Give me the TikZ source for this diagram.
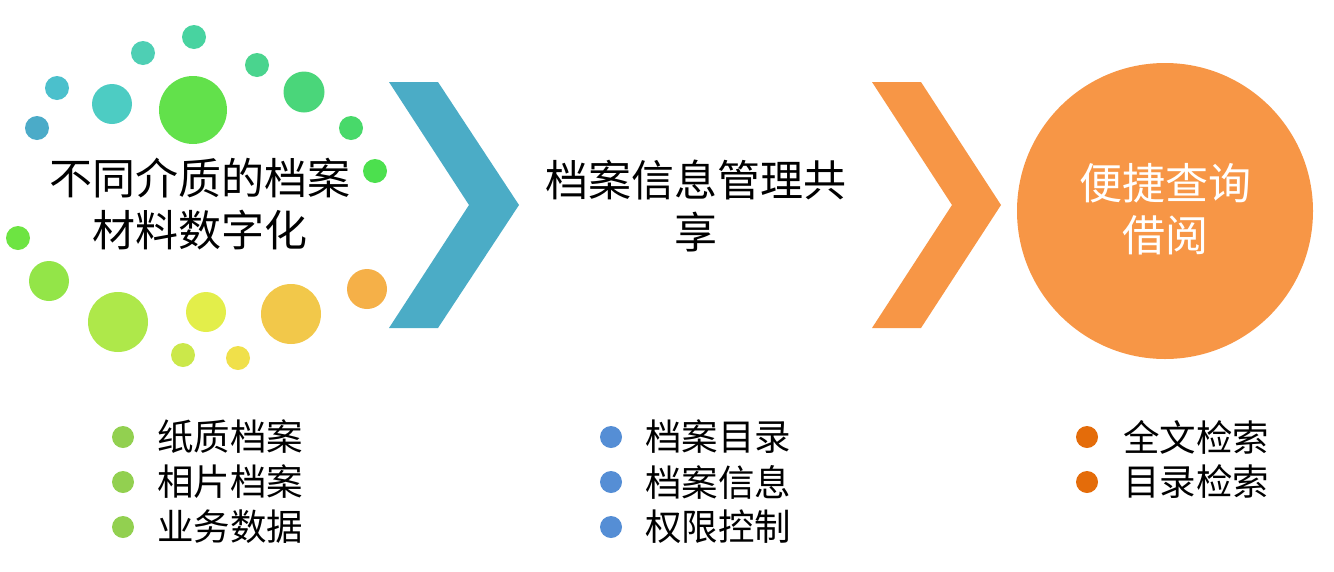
\documentclass[tikz,border=0pt]{standalone}
\usepackage{fontspec}
\newfontfamily\cjk{Noto Sans CJK SC}
\definecolor{cblue}{HTML}{4BACC6}
\definecolor{corange}{HTML}{F79646}
\definecolor{bgreen}{HTML}{92D050}
\definecolor{bblue}{HTML}{558ED5}
\definecolor{borange}{HTML}{E46C0A}
\tikzset{
  dot/.style={circle, inner sep=0pt, minimum size=#1},
  big/.style={font=\cjk\fontsize{43}{52}\selectfont, align=center, inner sep=0pt},
  item/.style={font=\cjk\fontsize{36.5}{44}\selectfont, anchor=west, inner sep=0pt},
  bullet/.style={circle, inner sep=0pt, minimum size=22pt}
}
\begin{document}
\begin{tikzpicture}[x=1pt,y=-1pt]
\useasboundingbox (0,0) rectangle (1334,571);
% decorative circles
\node[dot=24pt, fill={rgb,255:red,72;green,211;blue,160}] (d1) at (194,37) {};
\node[dot=24pt, fill={rgb,255:red,78;green,207;blue,180}] (d2) at (143,53) {};
\node[dot=24pt, fill={rgb,255:red,74;green,212;blue,142}] (d3) at (257,65) {};
\node[dot=24pt, fill={rgb,255:red,75;green,192;blue,204}] (d4) at (57,88) {};
\node[dot=40pt, fill={rgb,255:red,77;green,204;blue,195}] (d5) at (112,104) {};
\node[dot=68pt, fill={rgb,255:red,98;green,225;blue,75}] (d6) at (193,110) {};
\node[dot=41pt, fill={rgb,255:red,74;green,214;blue,122}] (d7) at (304,92) {};
\node[dot=24pt, fill={rgb,255:red,75;green,171;blue,200}] (d8) at (37,128) {};
\node[dot=24pt, fill={rgb,255:red,72;green,217;blue,106}] (d9) at (351,128) {};
\node[dot=24pt, fill={rgb,255:red,76;green,224;blue,78}] (d10) at (375,171) {};
\node[dot=24pt, fill={rgb,255:red,109;green,228;blue,66}] (d11) at (18,238) {};
\node[dot=40pt, fill={rgb,255:red,147;green,229;blue,72}] (d12) at (49,281) {};
\node[dot=60pt, fill={rgb,255:red,174;green,232;blue,74}] (d13) at (118,322) {};
\node[dot=40pt, fill={rgb,255:red,227;green,238;blue,74}] (d14) at (206,312) {};
\node[dot=60pt, fill={rgb,255:red,242;green,200;blue,74}] (d15) at (291,314) {};
\node[dot=40pt, fill={rgb,255:red,245;green,176;blue,72}] (d16) at (367,289) {};
\node[dot=24pt, fill={rgb,255:red,203;green,232;blue,74}] (d17) at (183,355) {};
\node[dot=24pt, fill={rgb,255:red,240;green,224;blue,74}] (d18) at (238,358) {};
% chevrons
\fill[cblue] (389,82) -- (438,82) -- (519,205) -- (438,328) -- (389,328) -- (469,205) -- cycle;
\fill[corange] (872,82) -- (921,82) -- (1001,205) -- (921,328) -- (872,328) -- (952,205) -- cycle;
% end circle
\node[circle, fill=corange, minimum size=296pt, inner sep=0pt] (goal) at (1165,211) {};
% main texts
\node[big] (t1) at (200,204) {不同介质的档案\\材料数字化};
\node[big] (t2) at (696,206) {档案信息管理共\\享};
\node[big, text=white] (t3) at (1165,209) {便捷查询\\借阅};
% bullet lists
\node[bullet, fill=bgreen] (g1) at (123,437) {};
\node[bullet, fill=bgreen] (g2) at (123,482) {};
\node[bullet, fill=bgreen] (g3) at (123,527) {};
\node[item] (gt1) at (157,437) {纸质档案};
\node[item] (gt2) at (157,482) {相片档案};
\node[item] (gt3) at (157,527) {业务数据};
\node[bullet, fill=bblue] (b1) at (611,437) {};
\node[bullet, fill=bblue] (b2) at (611,482) {};
\node[bullet, fill=bblue] (b3) at (611,527) {};
\node[item] (bt1) at (645,437) {档案目录};
\node[item] (bt2) at (645,482) {档案信息};
\node[item] (bt3) at (645,527) {权限控制};
\node[bullet, fill=borange] (o1) at (1087,437) {};
\node[bullet, fill=borange] (o2) at (1087,482) {};
\node[item] (ot1) at (1123,437) {全文检索};
\node[item] (ot2) at (1123,482) {目录检索};
\end{tikzpicture}
\end{document}
